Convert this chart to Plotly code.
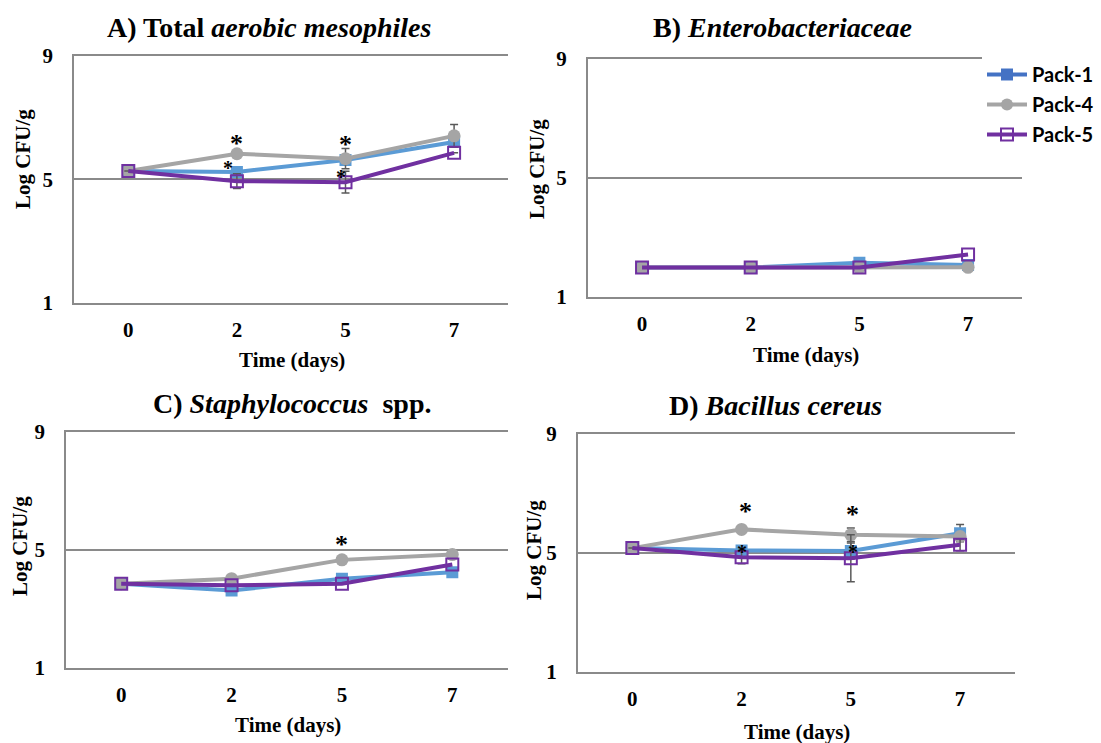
import plotly.graph_objects as go

W, H = 1101, 743

days = ["0", "2", "5", "7"]
series_names = ["Pack-1", "Pack-4", "Pack-5"]

A_pack1 = [5.27, 5.24, 5.63, 6.21]
A_pack4 = [5.27, 5.83, 5.67, 6.41]
A_pack5 = [5.27, 4.94, 4.91, 5.86]
A_err1 = [None, None, None, None]
A_err4 = [None, None, 0.33, 0.37]
A_err5 = [None, 0.24, 0.35, None]

B_pack1 = [1.98, 1.98, 2.14, 2.07]
B_pack4 = [1.98, 1.98, 1.98, 1.99]
B_pack5 = [1.98, 1.98, 1.98, 2.42]
B_err1 = [None, None, None, None]
B_err4 = [None, None, None, None]
B_err5 = [None, None, None, None]

C_pack1 = [3.85, 3.62, 4.02, 4.24]
C_pack4 = [3.85, 4.02, 4.66, 4.84]
C_pack5 = [3.85, 3.80, 3.85, 4.50]
C_err1 = [None, None, None, None]
C_err4 = [None, None, None, None]
C_err5 = [None, None, None, None]

D_pack1 = [5.16, 5.08, 5.06, 5.66]
D_pack4 = [5.16, 5.79, 5.61, 5.55]
D_pack5 = [5.16, 4.85, 4.82, 5.27]
D_err1 = [None, None, 0.27, 0.29]
D_err4 = [None, None, 0.23, None]
D_err5 = [None, 0.22, 0.79, 0.20]

# significance marks: day, y value, big?
A_star_day = ["2", "5", "2", "5"]
A_star_y = [6.35, 6.32, 5.49, 5.22]
A_star_big = [True, True, False, False]
C_star_day = ["5"]
C_star_y = [5.37]
C_star_big = [True]
D_star_day = ["2", "5", "2", "5"]
D_star_y = [6.59, 6.50, 5.15, 5.15]
D_star_big = [True, True, False, False]

titles = [
    "<b>A) Total <i>aerobic mesophiles</i></b>",
    "<b>B)<i> Enterobacteriaceae</i></b>",
    "<b>C) <i>Staphylococcus</i>  spp.</b>",
    "<b>D) <i>Bacillus cereus</i></b>",
]
y_ticks = [1, 5, 9]
y_range = [1, 9]

SERIF = "Liberation Serif"
C_BLUE = "#5B9BD5"
C_BLUE_LEG = "#4472C4"
C_GRAY = "#A5A5A5"
C_PURPLE = "#7030A0"
C_ERR = "#595959"
C_GRID = "#8A8A8A"

# panel geometry in pixels: left, right, top, bottom
panels = [
    dict(l=74, r=508.4, t=56, b=302.7, title=(269, 28), ylab=(23, 159), xlab=(292, 360)),
    dict(l=587.7, r=1022.4, t=59, b=296.7, title=(782, 28), ylab=(537, 169), xlab=(806, 355)),
    dict(l=66, r=507.5, t=432, b=667.7, title=(292, 403), ylab=(20, 546), xlab=(288, 725)),
    dict(l=577.7, r=1014.7, t=434, b=671.7, title=(775, 405), ylab=(534, 550), xlab=(797, 732)),
]

data_sets = [
    (A_pack1, A_pack4, A_pack5, A_err1, A_err4, A_err5),
    (B_pack1, B_pack4, B_pack5, B_err1, B_err4, B_err5),
    (C_pack1, C_pack4, C_pack5, C_err1, C_err4, C_err5),
    (D_pack1, D_pack4, D_pack5, D_err1, D_err4, D_err5),
]
stars = [
    (A_star_day, A_star_y, A_star_big),
    ([], [], []),
    (C_star_day, C_star_y, C_star_big),
    (D_star_day, D_star_y, D_star_big),
]
star_xshift = [[0, 0, -9, -5], [], [0], [4, 2, 0, 2]]

fig = go.Figure()
layout = dict(
    width=W, height=H,
    margin=dict(l=0, r=0, t=0, b=0, autoexpand=False),
    paper_bgcolor="white", plot_bgcolor="white",
    showlegend=True,
)
annotations = []

def px_x(v):
    return v / W

def px_y(v):
    return 1 - v / H

styles = [
    dict(color=C_BLUE, symbol="square", size=12, line=dict(width=0)),
    dict(color=C_GRAY, symbol="circle", size=13, line=dict(width=0)),
    dict(color=C_PURPLE, symbol="square-open", size=12, line=dict(width=2, color=C_PURPLE)),
]
line_colors = [C_BLUE, C_GRAY, C_PURPLE]

for i, (p, ds) in enumerate(zip(panels, data_sets)):
    n = "" if i == 0 else str(i + 1)
    xa, ya = "xaxis" + n, "yaxis" + n
    xr, yr = "x" + n, "y" + n
    layout[xa] = dict(
        domain=[px_x(p["l"]), px_x(p["r"])], anchor=yr,
        type="category", categoryorder="array", categoryarray=days,
        range=[-0.5, 3.5], showgrid=False, zeroline=False,
        showline=True, linecolor=C_GRID, linewidth=1.5, mirror=True,
        ticks="", ticklabelstandoff=7,
        tickfont=dict(family=SERIF, size=21, color="black", weight="bold"),
        fixedrange=True,
    )
    layout[ya] = dict(
        domain=[px_y(p["b"]), px_y(p["t"])], anchor=xr,
        range=y_range, tickvals=y_ticks, ticktext=[str(v) for v in y_ticks],
        showgrid=True, gridcolor=C_GRID, gridwidth=1.5, zeroline=False,
        showline=True, linecolor=C_GRID, linewidth=1.5, mirror=False,
        ticks="", ticklabelstandoff=15,
        tickfont=dict(family=SERIF, size=21, color="black", weight="bold"),
        fixedrange=True,
    )
    vals = ds[:3]
    errs = ds[3:]
    for k in range(3):
        err = errs[k]
        has_err = any(e is not None for e in err)
        fig.add_trace(go.Scatter(
            x=days, y=vals[k], mode="lines+markers", name=series_names[k],
            xaxis=xr, yaxis=yr, showlegend=False,
            line=dict(color=line_colors[k], width=4),
            marker=styles[k],
            error_y=dict(type="data", array=err, visible=has_err,
                         color=C_ERR, thickness=1.5, width=4),
        ))
    annotations.append(dict(
        text=titles[i], x=px_x(p["title"][0]), y=px_y(p["title"][1]),
        xref="paper", yref="paper", xanchor="center", yanchor="middle",
        showarrow=False, font=dict(family=SERIF, size=28, color="black"),
    ))
    annotations.append(dict(
        text="<b>Log CFU/g</b>", x=px_x(p["ylab"][0]), y=px_y(p["ylab"][1]),
        xref="paper", yref="paper", xanchor="center", yanchor="middle",
        textangle=-90, showarrow=False, font=dict(family=SERIF, size=21, color="black"),
    ))
    annotations.append(dict(
        text="<b>Time (days)</b>", x=px_x(p["xlab"][0]), y=px_y(p["xlab"][1]),
        xref="paper", yref="paper", xanchor="center", yanchor="middle",
        showarrow=False, font=dict(family=SERIF, size=21, color="black"),
    ))
    sd, sy, sb = stars[i]
    for j in range(len(sd)):
        big = sb[j]
        annotations.append(dict(
            text="<b>*</b>", x=days.index(sd[j]), y=sy[j],
            xref=xr, yref=yr, xanchor="center", yanchor="middle",
            xshift=star_xshift[i][j], yshift=-6 if big else -4,
            showarrow=False,
            font=dict(family=SERIF, size=26 if big else 20, color="black"),
        ))

# legend entries
leg_styles = [
    dict(color=C_BLUE_LEG, symbol="square", size=12),
    dict(color=C_GRAY, symbol="circle", size=12),
    dict(color=C_PURPLE, symbol="square-open", size=12, line=dict(width=2, color=C_PURPLE)),
]
leg_lines = [C_BLUE_LEG, C_GRAY, C_PURPLE]
for k in range(3):
    fig.add_trace(go.Scatter(
        x=[None], y=[None], mode="lines+markers", name=series_names[k],
        xaxis="x2", yaxis="y2", showlegend=True, legendgroup=series_names[k],
        line=dict(color=leg_lines[k], width=4), marker=leg_styles[k],
    ))

layout["legend"] = dict(
    x=px_x(982), y=px_y(55), xanchor="left", yanchor="top",
    bgcolor="white", borderwidth=0, tracegroupgap=1,
    font=dict(family="Lato", size=20, color="black", weight="bold"),
    itemwidth=40,
)
layout["annotations"] = annotations
fig.update_layout(**layout)
fig.write_html("out.html", config={"displayModeBar": False},
               post_script="document.body.style.margin='0px';")
